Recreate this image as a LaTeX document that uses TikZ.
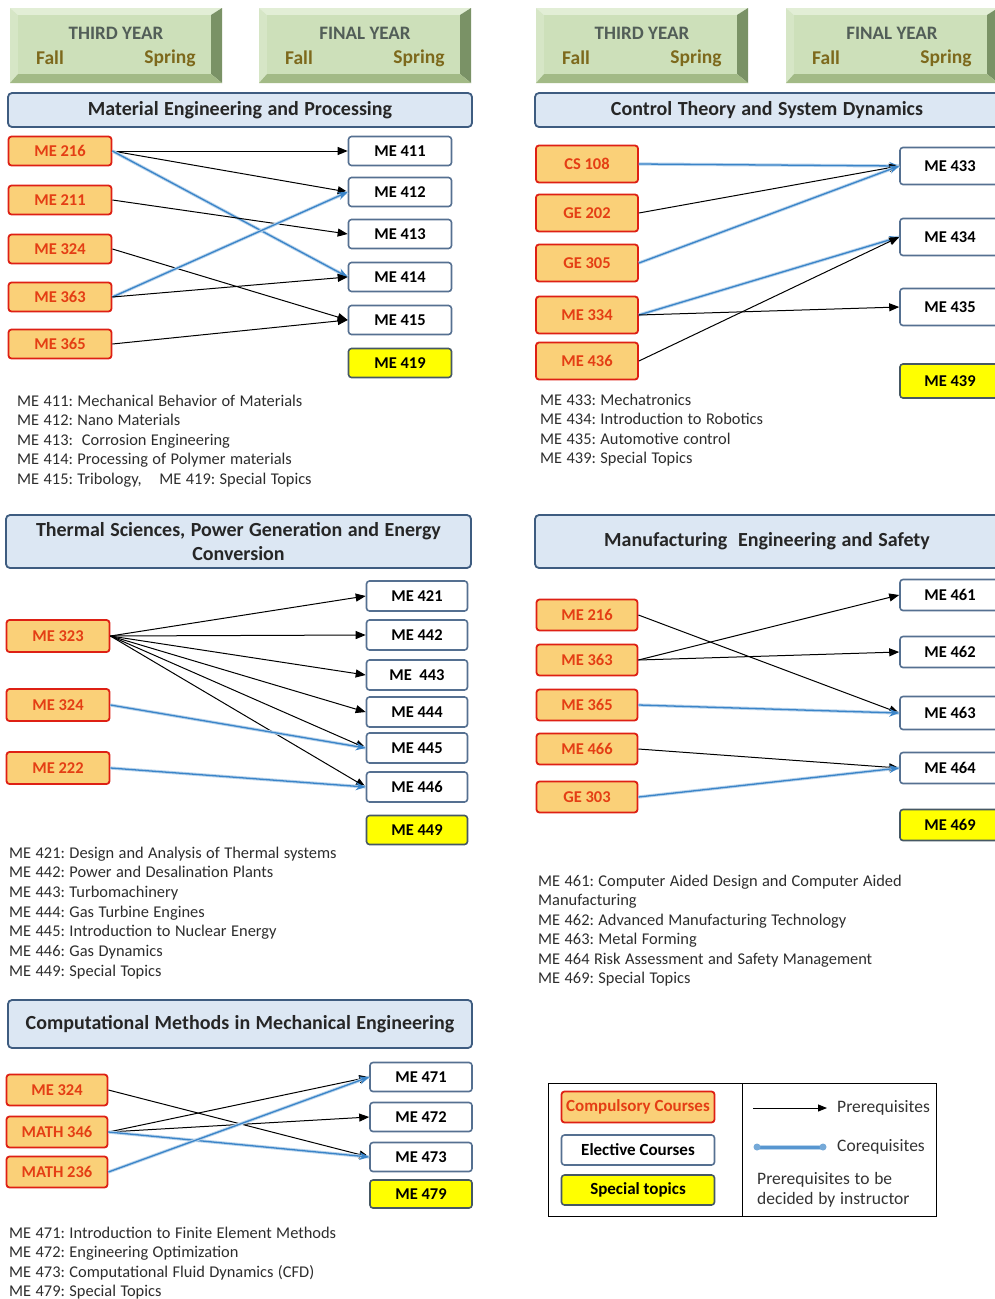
\documentclass[tikz,border=0pt]{standalone}
\usepackage{fontspec}
\setmainfont{Carlito}
\newfontfamily\descfont{Carlito}[WordSpace=0.75]
\newfontfamily\hdrfont{Carlito}[WordSpace=1.2]
\frenchspacing
\usetikzlibrary{arrows.meta}
\definecolor{redF}{RGB}{250,208,120}
\definecolor{redB}{RGB}{222,32,20}
\definecolor{redT}{RGB}{228,62,20}
\definecolor{steel}{RGB}{85,112,145}
\definecolor{specB}{RGB}{70,88,100}
\definecolor{yelF}{RGB}{255,255,0}
\definecolor{hdrF}{RGB}{220,231,243}
\definecolor{hdrB}{RGB}{62,92,128}
\definecolor{coB}{RGB}{58,132,200}
\definecolor{coL}{RGB}{185,212,236}
\definecolor{gFace}{RGB}{205,224,186}
\definecolor{gTop}{RGB}{226,238,214}
\definecolor{gLeft}{RGB}{214,230,198}
\definecolor{gRight}{RGB}{122,146,102}
\definecolor{gBot}{RGB}{162,186,134}
\definecolor{gTitle}{RGB}{82,94,88}
\definecolor{gSem}{RGB}{125,105,28}
\definecolor{descT}{RGB}{45,45,45}
\newcommand\yearbox[3]{%
  \fill[gTop] (#1,#2) -- ({#1+212},#2) -- ({#1+201},{#2+7}) -- ({#1+8},{#2+7}) -- cycle;
  \fill[gLeft] (#1,#2) -- ({#1+8},{#2+7}) -- ({#1+8},{#2+66}) -- (#1,{#2+75}) -- cycle;
  \fill[gRight] ({#1+212},#2) -- ({#1+212},{#2+75}) -- ({#1+201},{#2+66}) -- ({#1+201},{#2+7}) -- cycle;
  \fill[gBot] (#1,{#2+75}) -- ({#1+212},{#2+75}) -- ({#1+201},{#2+66}) -- ({#1+8},{#2+66}) -- cycle;
  \fill[gFace] ({#1+8},{#2+7}) rectangle ({#1+201},{#2+66});
  \node[ytitle] at ({#1+106},{#2+25}) {#3};
  \node[ysem] at ({#1+40},{#2+50}) {Fall};
  \node[ysem] at ({#1+160},{#2+50}) {Spring};
}
\begin{document}
\begin{tikzpicture}[x=1pt,y=-1pt,
  ytitle/.style={font=\fontsize{19}{22}\selectfont\bfseries, text=gTitle, inner sep=0pt},
  ysem/.style={font=\fontsize{19.5}{22}\selectfont\bfseries, text=gSem, inner sep=0pt},
  hdr/.style={rectangle, rounded corners=4pt, draw=hdrB, line width=1.8pt, fill=hdrF, inner sep=0pt,
    font=\hdrfont\fontsize{20}{24}\selectfont\bfseries, text=black!85, align=center},
  comp/.style={rectangle, rounded corners=3pt, draw=redB, line width=1.8pt, fill=redF, text=redT,
    font=\fontsize{16.5}{18}\selectfont\bfseries, inner sep=0pt},
  elec/.style={rectangle, rounded corners=3pt, draw=steel, line width=1.6pt, fill=white, text=black,
    font=\fontsize{16.5}{18}\selectfont\bfseries, inner sep=0pt},
  spec/.style={elec, fill=yelF, draw=specB},
  pre/.style={draw=black, line width=1pt, -{Triangle[length=10pt,width=8pt]}},
  co/.style={draw=coB, line width=1.3pt, -{Stealth[length=10pt,width=8pt]},
    preaction={draw=coL, line width=3.2pt, arrows=-}},
  desc/.style={anchor=base west, inner sep=0pt, text=descT, font=\descfont\fontsize{16.4}{19}\selectfont},
  ltext/.style={anchor=west, inner sep=0pt, text=black!80, font=\descfont\fontsize{17.5}{19}\selectfont},
  lbox/.style={minimum width=153, font=\fontsize{17}{18}\selectfont\bfseries}
]
\useasboundingbox (0,0) rectangle (995,1299);
\fill[white] (0,0) rectangle (995,1299);

% ---------- year boxes ----------
\yearbox{10}{8}{THIRD YEAR}
\yearbox{259}{8}{FINAL YEAR}
\yearbox{536}{8}{THIRD YEAR}
\yearbox{786}{8}{FINAL YEAR}

% ---------- section headers ----------
\node[hdr, minimum width=464, minimum height=34] (h1) at (240,110) {Material Engineering and Processing};
\node[hdr, minimum width=464, minimum height=34] (h2) at (767,110) {Control Theory and System Dynamics};
\node[hdr, minimum width=465, minimum height=53] (h3) at (238.5,541.5) {Thermal Sciences, Power Generation and Energy\\Conversion};
\node[hdr, minimum width=464, minimum height=53] (h4) at (767,541.5) {Manufacturing\ \ Engineering and Safety};
\node[hdr, minimum width=464, minimum height=48] (h5) at (240,1024) {Computational\ Methods in Mechanical\ Engineering};

% ---------- section 1 ----------
\begin{scope}[every node/.append style={minimum width=103, minimum height=29}]
\node[comp] (s1a) at (60,151) {ME 216};
\node[comp] (s1b) at (60,200) {ME 211};
\node[comp] (s1c) at (60,249) {ME 324};
\node[comp] (s1d) at (60,297) {ME 363};
\node[comp] (s1e) at (60,344) {ME 365};
\node[elec] (s1p) at (400,151) {ME 411};
\node[elec] (s1q) at (400,192) {ME 412};
\node[elec] (s1r) at (400,234) {ME 413};
\node[elec] (s1s) at (400,277) {ME 414};
\node[elec] (s1t) at (400,320) {ME 415};
\node[spec] (s1u) at (400,363) {ME 419};
\end{scope}
\draw[pre] (s1a.east) -- (s1p.west);
\draw[pre] (s1a.east) -- (s1q.west);
\draw[co]  (s1a.east) -- (s1s.west);
\draw[pre] (s1b.east) -- (s1r.west);
\draw[pre] (s1c.east) -- (s1t.west);
\draw[co]  (s1d.east) -- (s1q.west);
\draw[pre] (s1d.east) -- (s1s.west);
\draw[pre] (s1e.east) -- (s1t.west);

\foreach \t [count=\i from 0] in {{ME 411: Mechanical Behavior of Materials},{ME 412: Nano Materials},{ME 413:\ \ Corrosion Engineering},{ME 414: Processing of Polymer materials},{ME 415: Tribology,\ \ \ \ ME 419: Special Topics}}
  \node[desc] (d1-\i) at (17,{406+19.5*\i}) {\t};

% ---------- section 2 ----------
\begin{scope}[every node/.append style={minimum width=102, minimum height=37}]
\node[comp] (s2a) at (587,164) {CS 108};
\node[comp] (s2b) at (587,213) {GE 202};
\node[comp] (s2c) at (587,263) {GE 305};
\node[comp] (s2d) at (587,315) {ME 334};
\node[comp] (s2e) at (587,361) {ME 436};
\node[elec, minimum width=100] (s2p) at (950,166) {ME 433};
\node[elec, minimum width=100] (s2q) at (950,237) {ME 434};
\node[elec, minimum width=100] (s2r) at (950,307) {ME 435};
\node[spec, minimum width=100, minimum height=34] (s2s) at (950,381) {ME 439};
\end{scope}
\draw[co]  (s2a.east) -- (s2p.west);
\draw[pre] (s2b.east) -- (s2p.west);
\draw[co]  (s2c.east) -- (s2p.west);
\draw[co]  (s2d.east) -- (s2q.west);
\draw[pre] (s2d.east) -- (s2r.west);
\draw[pre] (s2e.east) -- (s2q.west);

\foreach \t [count=\i from 0] in {{ME 433: Mechatronics},{ME 434: Introduction to Robotics},{ME 435: Automotive control},{ME 439: Special Topics}}
  \node[desc] (d2-\i) at (540,{405+19.5*\i}) {\t};

% ---------- section 3 ----------
\begin{scope}[every node/.append style={minimum width=103, minimum height=32}]
\node[comp] (s3a) at (58,636) {ME 323};
\node[comp] (s3b) at (58,705) {ME 324};
\node[comp] (s3c) at (58,768) {ME 222};
\node[elec, minimum width=101, minimum height=30] (s3p) at (417,596) {ME 421};
\node[elec, minimum width=101, minimum height=30] (s3q) at (417,635) {ME 442};
\node[elec, minimum width=101, minimum height=30] (s3r) at (417,675) {ME\ \ 443};
\node[elec, minimum width=101, minimum height=30] (s3s) at (417,712) {ME 444};
\node[elec, minimum width=101, minimum height=30] (s3t) at (417,748) {ME 445};
\node[elec, minimum width=101, minimum height=30] (s3u) at (417,787) {ME 446};
\node[spec, minimum width=101, minimum height=29] (s3v) at (417,830) {ME 449};
\end{scope}
\draw[pre] (s3a.east) -- (s3p.west);
\draw[pre] (s3a.east) -- (s3q.west);
\draw[pre] (s3a.east) -- (s3r.west);
\draw[pre] (s3a.east) -- (s3s.west);
\draw[pre] (s3a.east) -- (s3t.west);
\draw[pre] (s3a.east) -- (s3u.west);
\draw[co]  (s3b.east) -- (s3t.west);
\draw[co]  (s3c.east) -- (s3u.west);

\foreach \t [count=\i from 0] in {{ME 421: Design and Analysis of Thermal systems},{ME 442: Power and Desalination Plants},{ME 443: Turbomachinery},{ME 444: Gas Turbine Engines},{ME 445: Introduction to Nuclear Energy},{ME 446: Gas Dynamics},{ME 449: Special Topics}}
  \node[desc] (d3-\i) at (9,{858+19.7*\i}) {\t};

% ---------- section 4 ----------
\begin{scope}[every node/.append style={minimum width=101, minimum height=31}]
\node[comp] (s4a) at (587,615) {ME 216};
\node[comp] (s4b) at (587,660) {ME 363};
\node[comp] (s4c) at (587,705) {ME 365};
\node[comp] (s4d) at (587,749) {ME 466};
\node[comp] (s4e) at (587,797) {GE 303};
\node[elec, minimum width=100] (s4p) at (950,595) {ME 461};
\node[elec, minimum width=100] (s4q) at (950,652) {ME 462};
\node[elec, minimum width=100, minimum height=33] (s4r) at (950,713) {ME 463};
\node[elec, minimum width=100] (s4s) at (950,768) {ME 464};
\node[spec, minimum width=100] (s4t) at (950,825) {ME 469};
\end{scope}
\draw[pre] (s4a.east) -- (s4r.west);
\draw[pre] (s4b.east) -- (s4p.west);
\draw[pre] (s4b.east) -- (s4q.west);
\draw[co]  (s4c.east) -- (s4r.west);
\draw[pre] (s4d.east) -- (s4s.west);
\draw[co]  (s4e.east) -- (s4s.west);

\foreach \t [count=\i from 0] in {{ME 461: Computer Aided Design and Computer Aided},{Manufacturing},{ME 462: Advanced Manufacturing Technology},{ME 463: Metal Forming},{ME 464 Risk Assessment and Safety Management},{ME 469: Special Topics}}
  \node[desc] (d4-\i) at (538,{886+19.5*\i}) {\t};

% ---------- section 5 ----------
\begin{scope}[every node/.append style={minimum width=101, minimum height=31}]
\node[comp] (s5a) at (57,1090) {ME 324};
\node[comp] (s5b) at (57,1132) {MATH 346};
\node[comp] (s5c) at (57,1172) {MATH 236};
\node[elec, minimum width=102, minimum height=29] (s5p) at (421,1077) {ME 471};
\node[elec, minimum width=102, minimum height=29] (s5q) at (421,1117) {ME 472};
\node[elec, minimum width=102, minimum height=29] (s5r) at (421,1157) {ME 473};
\node[spec, minimum width=102, minimum height=28] (s5s) at (421,1194) {ME 479};
\end{scope}
\draw[pre] (s5a.east) -- (s5r.west);
\draw[pre] (s5b.east) -- (s5p.west);
\draw[pre] (s5b.east) -- (s5q.west);
\draw[co]  (s5b.east) -- (s5r.west);
\draw[co]  (s5c.east) -- (s5p.west);

\foreach \t [count=\i from 0] in {{ME 471: Introduction to Finite Element Methods},{ME 472: Engineering Optimization},{ME 473: Computational Fluid Dynamics (CFD)},{ME 479: Special Topics}}
  \node[desc] (d5-\i) at (9,{1238+19.5*\i}) {\t};

% ---------- legend ----------
\draw[black, line width=1pt] (548,1083) rectangle (936,1216);
\draw[black, line width=1pt] (742,1083) -- (742,1216);
\node[comp, lbox, minimum height=31] (lc) at (638,1107) {Compulsory Courses};
\node[elec, lbox, minimum height=30] (le) at (638,1150) {Elective Courses};
\node[spec, lbox, minimum height=30] (ls) at (638,1190) {Special topics};
\coordinate (la1) at (753,1108);
\coordinate (la2) at (827,1108);
\draw[black, line width=1pt, -{Triangle[length=9pt,width=7pt]}] (la1) -- (la2);
\node[ltext] (lp) at (837,1108) {Prerequisites};
\coordinate (lb1) at (757,1147);
\coordinate (lb2) at (823,1147);
\draw[coL, line width=5pt, line cap=round] (lb1) -- (lb2);
\draw[coB!85, line width=3pt] (lb1) -- (lb2);
\fill[coB!70] (lb1) circle (3.5pt);
\fill[coB!70] (lb2) circle (3.5pt);
\node[ltext] (lq) at (837,1147) {Corequisites};
\node[ltext] (lr1) at (757,1180) {Prerequisites to be};
\node[ltext] (lr2) at (757,1200) {decided by instructor};
\end{tikzpicture}
\end{document}
